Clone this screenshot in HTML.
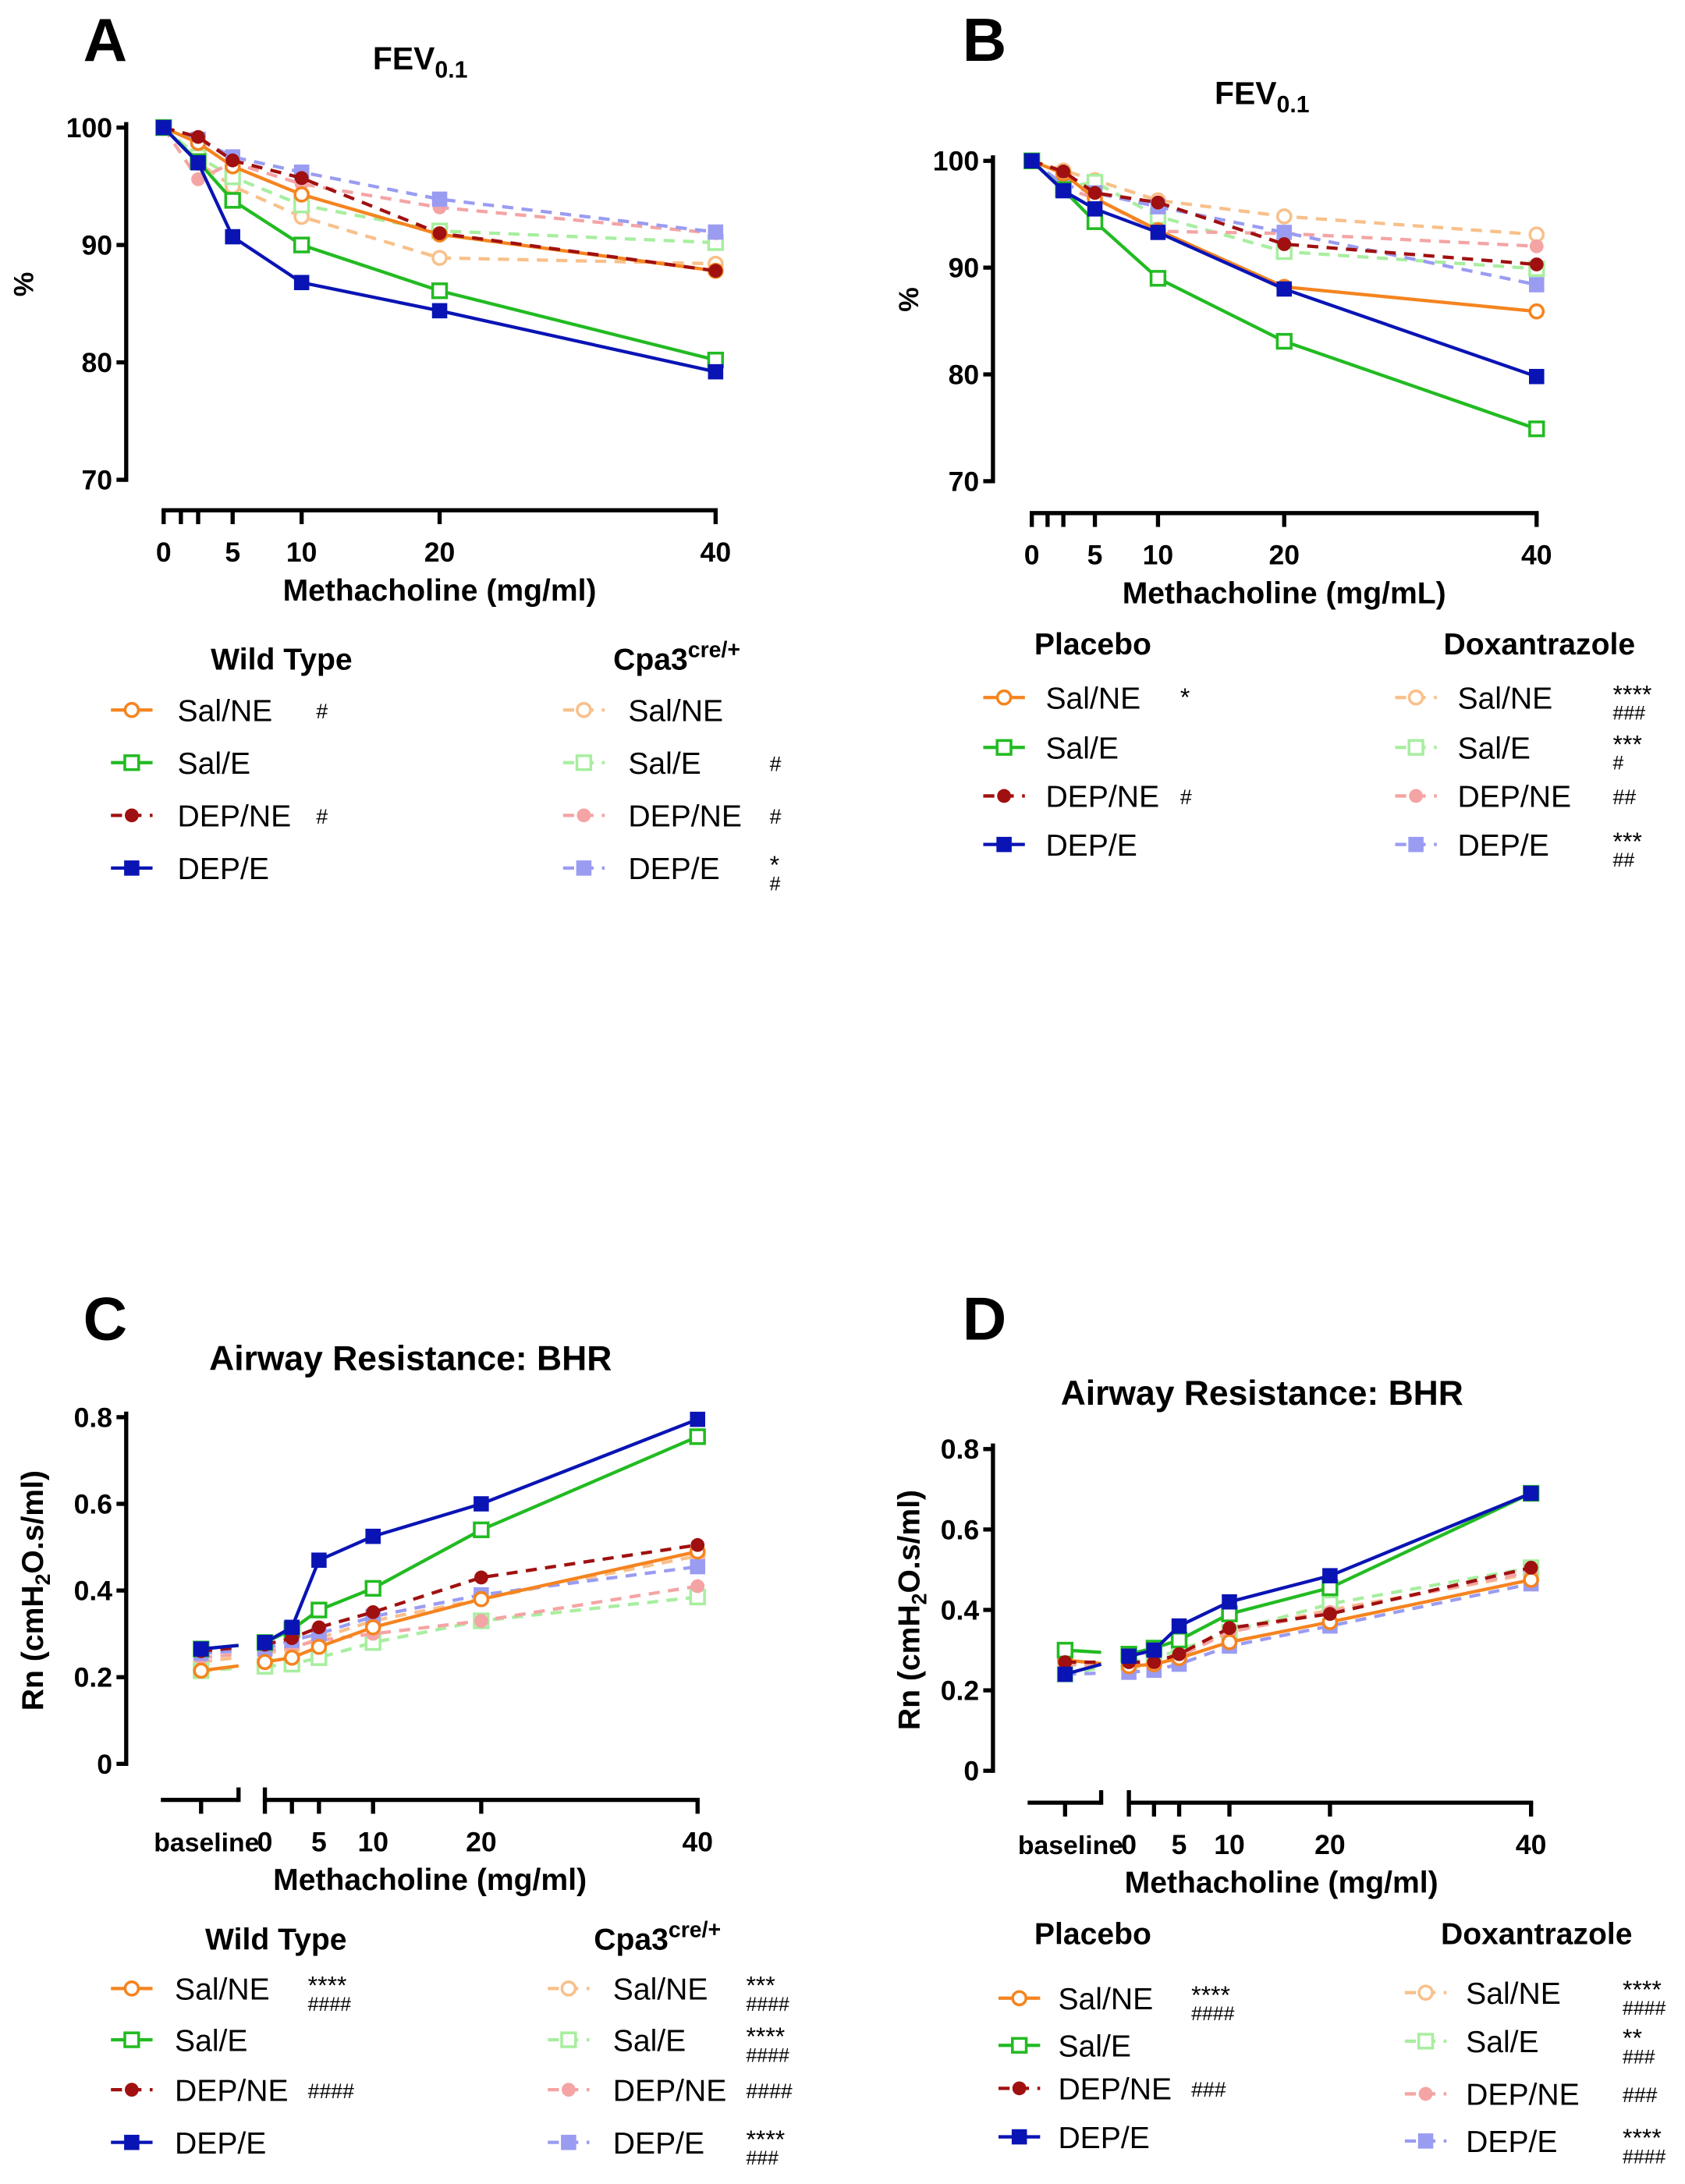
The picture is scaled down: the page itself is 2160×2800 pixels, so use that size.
<!DOCTYPE html>
<html><head><meta charset="utf-8"><style>
html,body{margin:0;padding:0;background:#fff;}
svg{display:block;font-family:"Liberation Sans",Arial,sans-serif;}
</style></head><body>
<svg id="fig" width="2160" height="2800" viewBox="0 0 1215 1575" xmlns="http://www.w3.org/2000/svg"></svg>
<script>
const doses=[0,2.5,5,10,20,40];
const xTicksFev=[0,1.25,2.5,5,10,20,40];
const xTickLabels=["0","","","5","10","20","40"];
const xTicksRn=[0,2.5,5,10,20,40];
const xTickLabelsRn=["0","","5","10","20","40"];
const yTicksFev=[70,80,90,100];
const yTicksRn=[0,0.2,0.4,0.6,0.8];
const yTickLabelsRn=["0","0.2","0.4","0.6","0.8"];
const seriesNames=["Sal/NE","Sal/E","DEP/NE","DEP/E"];
// Panel A
const aWT_SalNE=[100,98.7,96.7,94.3,90.9,87.8];
const aWT_SalE=[100,97.1,93.8,90.0,86.1,80.2];
const aWT_DepNE=[100,99.2,97.2,95.7,91.0,87.8];
const aWT_DepE=[100,97.0,90.7,86.8,84.4,79.2];
const aKO_SalNE=[100,97.0,95.0,92.4,88.9,88.4];
const aKO_SalE=[100,97.5,95.8,93.4,91.2,90.2];
const aKO_DepNE=[100,95.6,97.0,95.2,93.2,91.0];
const aKO_DepE=[100,99.0,97.5,96.2,93.9,91.1];
// Panel B
const bPl_SalNE=[100,98.8,96.5,93.5,88.2,85.9];
const bPl_SalE=[100,97.3,94.3,89.0,83.1,74.9];
const bPl_DepNE=[100,99.0,97.0,96.1,92.2,90.3];
const bPl_DepE=[100,97.2,95.5,93.3,88.0,79.8];
const bDx_SalNE=[100,99.1,98.2,96.3,94.8,93.1];
const bDx_SalE=[100,97.5,98.0,94.8,91.5,89.9];
const bDx_DepNE=[100,97.5,96.5,93.4,93.2,92.0];
const bDx_DepE=[100,97.8,97.0,95.7,93.3,88.4];
// Panel C (first value = baseline)
const cWT_SalNE=[0.215,0.235,0.245,0.27,0.315,0.38,0.49];
const cWT_SalE=[0.265,0.28,0.31,0.355,0.405,0.54,0.755];
const cWT_DepNE=[0.26,0.275,0.29,0.315,0.35,0.43,0.505];
const cWT_DepE=[0.265,0.28,0.315,0.47,0.525,0.6,0.795];
const cKO_SalNE=[0.235,0.255,0.265,0.29,0.33,0.38,0.48];
const cKO_SalE=[0.215,0.225,0.23,0.245,0.28,0.33,0.385];
const cKO_DepNE=[0.245,0.26,0.27,0.285,0.3,0.33,0.41];
const cKO_DepE=[0.255,0.265,0.285,0.3,0.34,0.39,0.455];
// Panel D
const dPl_SalNE=[0.275,0.26,0.265,0.28,0.32,0.37,0.475];
const dPl_SalE=[0.3,0.29,0.305,0.325,0.39,0.455,0.69];
const dPl_DepNE=[0.27,0.27,0.27,0.29,0.355,0.39,0.505];
const dPl_DepE=[0.24,0.285,0.3,0.36,0.42,0.485,0.69];
const dDx_SalNE=[0.265,0.255,0.265,0.285,0.345,0.4,0.49];
const dDx_SalE=[0.24,0.27,0.28,0.3,0.345,0.415,0.505];
const dDx_DepNE=[0.265,0.265,0.27,0.285,0.345,0.395,0.495];
const dDx_DepE=[0.24,0.245,0.25,0.265,0.31,0.36,0.465];
const sigA_L=[["#"],[],["#"],[]], sigA_R=[[],["#"],["#"],["*","#"]];
const sigB_L=[["*"],[],["#"],[]], sigB_R=[["****","###"],["***","#"],["##"],["***","##"]];
const sigC_L=[["****","####"],[],["####"],[]], sigC_R=[["***","####"],["****","####"],["####"],["****","###"]];
const sigD_L=[["****","####"],[],["###"],[]], sigD_R=[["****","####"],["**","###"],["###"],["****","####"]];

const NS="http://www.w3.org/2000/svg";
const svg=document.getElementById('fig');
function mk(tag,attrs,parent,text){const e=document.createElementNS(NS,tag);for(const k in attrs)e.setAttribute(k,attrs[k]);if(text!==undefined)e.textContent=text;(parent||svg).appendChild(e);return e;}
const COL={SalNE:"#f5841f",SalE:"#22bb22",DepNE:"#a01010",DepE:"#0a14b4"};
const LCOL={SalNE:"#f8c08a",SalE:"#a8eea0",DepNE:"#f4a4a4",DepE:"#9a9cf2"};
const KEYS=["SalNE","SalE","DepNE","DepE"];

function marker(g,key,x,y,color){
  let m;
  if(key==="SalNE"){m=mk('circle',{cx:x,cy:y,r:4.8,fill:'#fff',stroke:color,'stroke-width':2},g);}
  else if(key==="SalE"){m=mk('rect',{x:x-5,y:y-5,width:10,height:10,fill:'#fff',stroke:color,'stroke-width':2},g);}
  else if(key==="DepNE"){m=mk('circle',{cx:x,cy:y,r:5,fill:color},g);}
  else {m=mk('rect',{x:x-5.5,y:y-5.5,width:11,height:11,fill:color},g);}
  
  
}
function dashFor(key,light){return (light||key==="DepNE")?"8,6":null;}

function series(g,key,light,vals,xs,ys,base){
  const color=light?LCOL[key]:COL[key];
  const sg=mk('g',{},g);
  
  
  let pts=[];let dv=vals;
  if(base){
    dv=vals.slice(1);
    const bx=base.x, by=ys(vals[0]);
    const ey=ys(vals[0]+(vals[1]-vals[0])*0.55);
    const bl=mk('line',{x1:bx,y1:by,x2:base.end,y2:ey,stroke:color,'stroke-width':2.4},sg);
    if(dashFor(key,light))bl.setAttribute('stroke-dasharray',dashFor(key,light));
  }
  for(let i=0;i<dv.length;i++)pts.push(xs(doses[i])+','+ys(dv[i]));
  const pl=mk('polyline',{points:pts.join(' '),fill:'none',stroke:color,'stroke-width':2.4},sg);
  if(dashFor(key,light))pl.setAttribute('stroke-dasharray',dashFor(key,light));
  if(base)marker(sg,key,base.x,ys(vals[0]),color);
  for(let i=0;i<dv.length;i++)marker(sg,key,xs(doses[i]),ys(dv[i]),color);
}

function panel(o){
  const g=mk('g',{});
  
  
  const xs=v=>o.x0+(o.x1-o.x0)*v/40;
  const ys=v=>o.y0+(o.y1-o.y0)*(v-o.ymin)/(o.ymax-o.ymin);
  const L=mk('text',{x:o.lx,y:o.ly,'font-size':44,'font-weight':'bold'},g,o.letter);
  
  const T=mk('text',{x:o.tx,y:o.ty,'font-size':o.fev?23:25,'font-weight':'bold','text-anchor':'middle'},g);
  
  if(o.fev){T.textContent='FEV';mk('tspan',{'font-size':17,dy:6},T,'0.1');}else T.textContent='Airway Resistance: BHR';
  const ya=mk('g',{},g);
  mk('line',{x1:o.ax,y1:ys(o.ymax)-4,x2:o.ax,y2:ys(o.ymin)+1.5,stroke:'#000','stroke-width':3},ya);
  o.yt.forEach((v,i)=>{mk('line',{x1:o.ax-7,y1:ys(v),x2:o.ax,y2:ys(v),stroke:'#000','stroke-width':3},ya);
    const t=mk('text',{x:o.ax-10,y:ys(v)+7,'font-size':20,'font-weight':'bold','text-anchor':'end'},ya,o.ytl[i]);
    });
  const yt=mk('text',{transform:`translate(${o.ytx},${o.yty}) rotate(-90)`,'font-size':o.fev?20:22,'font-weight':'bold','text-anchor':'middle'},ya);
  
  if(o.fev)yt.textContent='%';else{yt.textContent='Rn (cmH';mk('tspan',{'font-size':15,dy:5},yt,'2');mk('tspan',{dy:-5},yt,'O.s/ml)');}
  const xa=mk('g',{},g);
  mk('line',{x1:xs(0)-1.5,y1:o.xay,x2:xs(40)+1.5,y2:o.xay,stroke:'#000','stroke-width':3},xa);
  const tk=o.base?xTicksRn:xTicksFev, tl=o.base?xTickLabelsRn:xTickLabels;
  tk.forEach((v,i)=>{mk('line',{x1:xs(v),y1:o.xay,x2:xs(v),y2:o.xay+10,stroke:'#000','stroke-width':3},xa);
    if(tl[i]){const t=mk('text',{x:xs(v),y:o.xay+37,'font-size':20,'font-weight':'bold','text-anchor':'middle'},xa,tl[i]);
    }});
  if(o.base){
    mk('line',{x1:o.base.start,y1:o.xay,x2:o.base.end,y2:o.xay,stroke:'#000','stroke-width':3},xa);
    mk('line',{x1:o.base.x,y1:o.xay,x2:o.base.x,y2:o.xay+10,stroke:'#000','stroke-width':3},xa);
    mk('line',{x1:o.base.end,y1:o.xay-9,x2:o.base.end,y2:o.xay+1.5,stroke:'#000','stroke-width':3},xa);
    mk('line',{x1:xs(0),y1:o.xay-9,x2:xs(0),y2:o.xay,stroke:'#000','stroke-width':3},xa);
    const t=mk('text',{x:xs(0)-4,y:o.xay+37,'font-size':19,'font-weight':'bold','text-anchor':'end'},xa,'baseline');
    
  }
  const xt=mk('text',{x:o.xtx,y:o.xay+65,'font-size':22,'font-weight':'bold','text-anchor':'middle'},xa,o.xtitle);
  
  KEYS.forEach((k,i)=>series(g,k,true,o.light[i],xs,ys,o.base));
  KEYS.forEach((k,i)=>series(g,k,false,o.dark[i],xs,ys,o.base));
  legend(g,o.legL,false,o.sigL);
  legend(g,o.legR,true,o.sigR);
}

function legend(g,c,light,sig){
  const lg=mk('g',{},g);
  
  
  const h=mk('text',{x:c.hx,y:c.hy,'font-size':22,'font-weight':'bold','text-anchor':'middle'},lg);
  
  if(c.header==='Cpa3'){h.textContent='Cpa3';mk('tspan',{'font-size':16,dy:-9},h,'cre/+');}else h.textContent=c.header;
  KEYS.forEach((k,i)=>{
    const y=c.rows[i];const color=light?LCOL[k]:COL[k];
    const e=mk('g',{},lg);
    
    
    const ln=mk('line',{x1:c.sx,y1:y,x2:c.sx+30,y2:y,stroke:color,'stroke-width':2.4},e);
    if(dashFor(k,light))ln.setAttribute('stroke-dasharray','8,6');
    marker(e,k,c.sx+15,y,color);
    mk('text',{x:c.lx,y:y+8,'font-size':22},e,seriesNames[i]);
    const s=sig[i];
    if(s.length===1)mk('text',{x:c.mx,y:y+6,'font-size':s[0][0]==='*'?18:15},e,s[0]);
    else{mk('text',{x:c.mx,y:y+4,'font-size':18},e,s[0]);mk('text',{x:c.mx,y:y+16,'font-size':14},e,s[1]);}
  });
}

panel({name:'panel-a',letter:'A',lx:60,ly:44,fev:true,tx:303,ty:50,ax:91,ymin:70,ymax:100,y0:346,y1:92,yt:yTicksFev,ytl:["70","80","90","100"],ytx:24,yty:205,
  x0:118,x1:516,xay:368,xtx:317,xtitle:'Methacholine (mg/ml)',
  dark:[aWT_SalNE,aWT_SalE,aWT_DepNE,aWT_DepE],light:[aKO_SalNE,aKO_SalE,aKO_DepNE,aKO_DepE],
  legL:{header:'Wild Type',hx:203,hy:483,rows:[512,550,588,626],sx:80,lx:128,mx:228},
  legR:{header:'Cpa3',hx:488,hy:483,rows:[512,550,588,626],sx:406,lx:453,mx:555},sigL:sigA_L,sigR:sigA_R});
panel({name:'panel-b',letter:'B',lx:694,ly:44,fev:true,tx:910,ty:75,ax:716,ymin:70,ymax:100,y0:347,y1:116,yt:yTicksFev,ytl:["70","80","90","100"],ytx:662,yty:216,
  x0:744,x1:1108,xay:370,xtx:926,xtitle:'Methacholine (mg/mL)',
  dark:[bPl_SalNE,bPl_SalE,bPl_DepNE,bPl_DepE],light:[bDx_SalNE,bDx_SalE,bDx_DepNE,bDx_DepE],
  legL:{header:'Placebo',hx:788,hy:472,rows:[503,539,574,609],sx:709,lx:754,mx:851},
  legR:{header:'Doxantrazole',hx:1110,hy:472,rows:[503,539,574,609],sx:1006,lx:1051,mx:1163},sigL:sigB_L,sigR:sigB_R});
panel({name:'panel-c',letter:'C',lx:60,ly:966,fev:false,tx:296,ty:988,ax:91,ymin:0,ymax:0.8,y0:1272,y1:1022,yt:yTicksRn,ytl:yTickLabelsRn,ytx:31,yty:1147,
  x0:191,x1:503,xay:1298,xtx:310,xtitle:'Methacholine (mg/ml)',base:{start:116,x:145,end:172},
  dark:[cWT_SalNE,cWT_SalE,cWT_DepNE,cWT_DepE],light:[cKO_SalNE,cKO_SalE,cKO_DepNE,cKO_DepE],
  legL:{header:'Wild Type',hx:199,hy:1406,rows:[1434,1471,1507,1545],sx:80,lx:126,mx:222},
  legR:{header:'Cpa3',hx:474,hy:1406,rows:[1434,1471,1507,1545],sx:395,lx:442,mx:538},sigL:sigC_L,sigR:sigC_R});
panel({name:'panel-d',letter:'D',lx:694,ly:966,fev:false,tx:910,ty:1013,ax:716,ymin:0,ymax:0.8,y0:1277,y1:1045,yt:yTicksRn,ytl:yTickLabelsRn,ytx:663,yty:1161,
  x0:814,x1:1104,xay:1300,xtx:924,xtitle:'Methacholine (mg/ml)',base:{start:741,x:768,end:794},
  dark:[dPl_SalNE,dPl_SalE,dPl_DepNE,dPl_DepE],light:[dDx_SalNE,dDx_SalE,dDx_DepNE,dDx_DepE],
  legL:{header:'Placebo',hx:788,hy:1402,rows:[1441,1475,1506,1541],sx:720,lx:763,mx:859},
  legR:{header:'Doxantrazole',hx:1108,hy:1402,rows:[1437,1472,1510,1544],sx:1013,lx:1057,mx:1170},sigL:sigD_L,sigR:sigD_R});
</script>
</body></html>
